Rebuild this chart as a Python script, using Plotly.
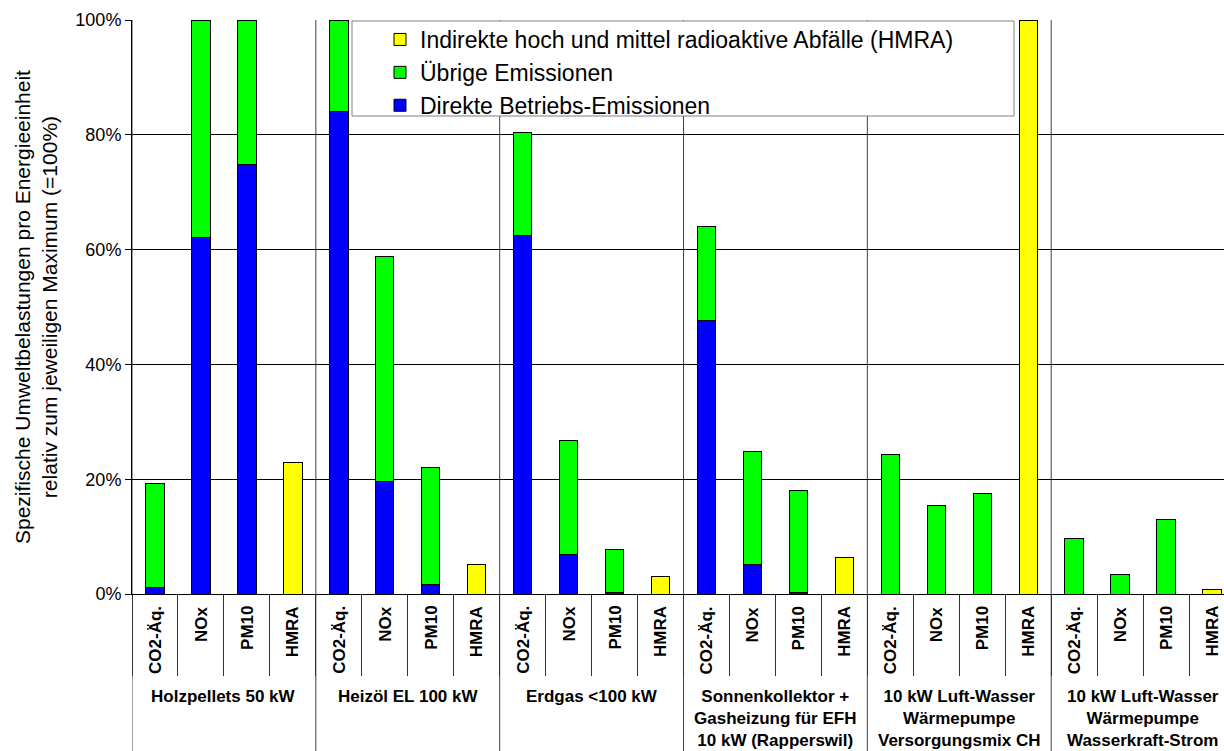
import plotly.graph_objects as go

groups = ["Holzpellets 50 kW", "Heizöl EL 100 kW", "Erdgas <100 kW",
          "Sonnenkollektor +<br>Gasheizung für EFH<br>10 kW (Rapperswil)",
          "10 kW Luft-Wasser<br>Wärmepumpe<br>Versorgungsmix CH",
          "10 kW Luft-Wasser<br>Wärmepumpe<br>Wasserkraft-Strom"]
indicators = ["CO2-Äq.", "NOx", "PM10", "HMRA"]

# values in % of respective maximum, per group: [CO2, NOx, PM10, HMRA]
direkt = [
    [1.1, 62.1, 74.8, None],
    [84.0, 19.6, 1.6, None],
    [62.4, 6.9, 0.3, None],
    [47.6, 5.2, 0.3, None],
    [None, None, None, None],
    [None, None, None, None],
]
uebrige = [
    [18.1, 37.9, 25.2, None],
    [16.0, 39.2, 20.4, None],
    [18.0, 19.8, 7.5, None],
    [16.5, 19.6, 17.7, None],
    [24.3, 15.5, 17.5, None],
    [9.6, 3.4, 13.0, None],
]
hmra = [
    [None, None, None, 22.9],
    [None, None, None, 5.1],
    [None, None, None, 3.1],
    [None, None, None, 6.4],
    [None, None, None, 100.0],
    [None, None, None, 0.8],
]

FONT = "Arial, 'Liberation Sans', sans-serif"

xkeys = [f"{g}|{c}" for g in groups for c in indicators]
flat = lambda arr: [v for row in arr for v in row]

fig = go.Figure()
common = dict(x=xkeys, width=0.4, marker_line=dict(color="black", width=1))
fig.add_trace(go.Bar(y=flat(direkt), name="Direkte Betriebs-Emissionen",
                     marker_color="#0000FF", **common))
fig.add_trace(go.Bar(y=flat(uebrige), name="Übrige Emissionen",
                     marker_color="#00FF00", **common))
fig.add_trace(go.Bar(y=flat(hmra), name="Indirekte hoch und mittel radioaktive Abfälle (HMRA)",
                     marker_color="#FFFF00", **common))

xmax = 23.26
PH = 574.0  # plot height in px
PW = 1092.0  # plot width in px


def py(p):  # reference pixel y -> paper
    return (594 - p) / PH


def px(p):  # reference pixel x -> paper
    return (p - 132) / PW


annotations = []
for i, key in enumerate(xkeys):
    annotations.append(dict(x=i, y=py(604), xref="x", yref="paper", text=f"<b>{key.split('|')[1]}</b>",
                            textangle=-90, showarrow=False, yanchor="top", xanchor="center",
                            font=dict(family=FONT, size=17, color="black")))
for gi, g in enumerate(groups):
    annotations.append(dict(x=gi * 4 + 1.5, y=py(685), xref="x", yref="paper", text=f"<b>{g}</b>",
                            showarrow=False, yanchor="top", xanchor="center",
                            font=dict(family=FONT, size=17, color="black")))
annotations.append(dict(x=px(36), y=0.5, xref="paper", yref="paper",
                        text="Spezifische Umweltbelastungen pro Energieeinheit<br>relativ zum jeweiligen Maximum (=100%)",
                        textangle=-90, showarrow=False, xanchor="center", yanchor="middle",
                        font=dict(family=FONT, size=21, color="black")))

shapes = []
for gi in range(len(groups)):
    xb = gi * 4 - 0.5
    shapes.append(dict(type="line", xref="x", yref="paper", x0=xb, x1=xb, y0=py(760), y1=1,
                       line=dict(color="#404040", width=1), layer="below"))
# legend box
shapes.append(dict(type="rect", xref="paper", yref="paper",
                   x0=px(352), x1=px(1014), y0=py(116), y1=py(21),
                   fillcolor="white", line=dict(color="#808080", width=1), layer="above"))

fig.update_layout(
    width=1224, height=751,
    margin=dict(l=132, r=0, t=20, b=157),
    barmode="stack",
    plot_bgcolor="white", paper_bgcolor="white",
    font=dict(family=FONT, size=18, color="black"),
    showlegend=True,
    legend=dict(x=px(380), y=py(18), xanchor="left", yanchor="top",
                traceorder="reversed", bgcolor="rgba(0,0,0,0)", borderwidth=0,
                font=dict(family=FONT, size=23, color="black")),
    annotations=annotations,
    shapes=shapes,
)
fig.update_xaxes(showticklabels=False, range=[-0.5, xmax], showgrid=False,
                 showline=True, linecolor="black", linewidth=1,
                 ticks="outside", tickson="boundaries", ticklen=81, tickcolor="#333333", tickwidth=1)
fig.update_yaxes(range=[0, 100], dtick=20, ticksuffix="%", showgrid=True, gridcolor="black", gridwidth=1,
                 showline=True, linecolor="black", linewidth=1, zeroline=False,
                 ticks="outside", ticklen=6, tickcolor="black",
                 tickfont=dict(family=FONT, size=18, color="black"))

fig.write_html("out.html", config={"displayModeBar": False},
               post_script="document.body.style.margin='0';document.body.style.overflow='hidden';")
